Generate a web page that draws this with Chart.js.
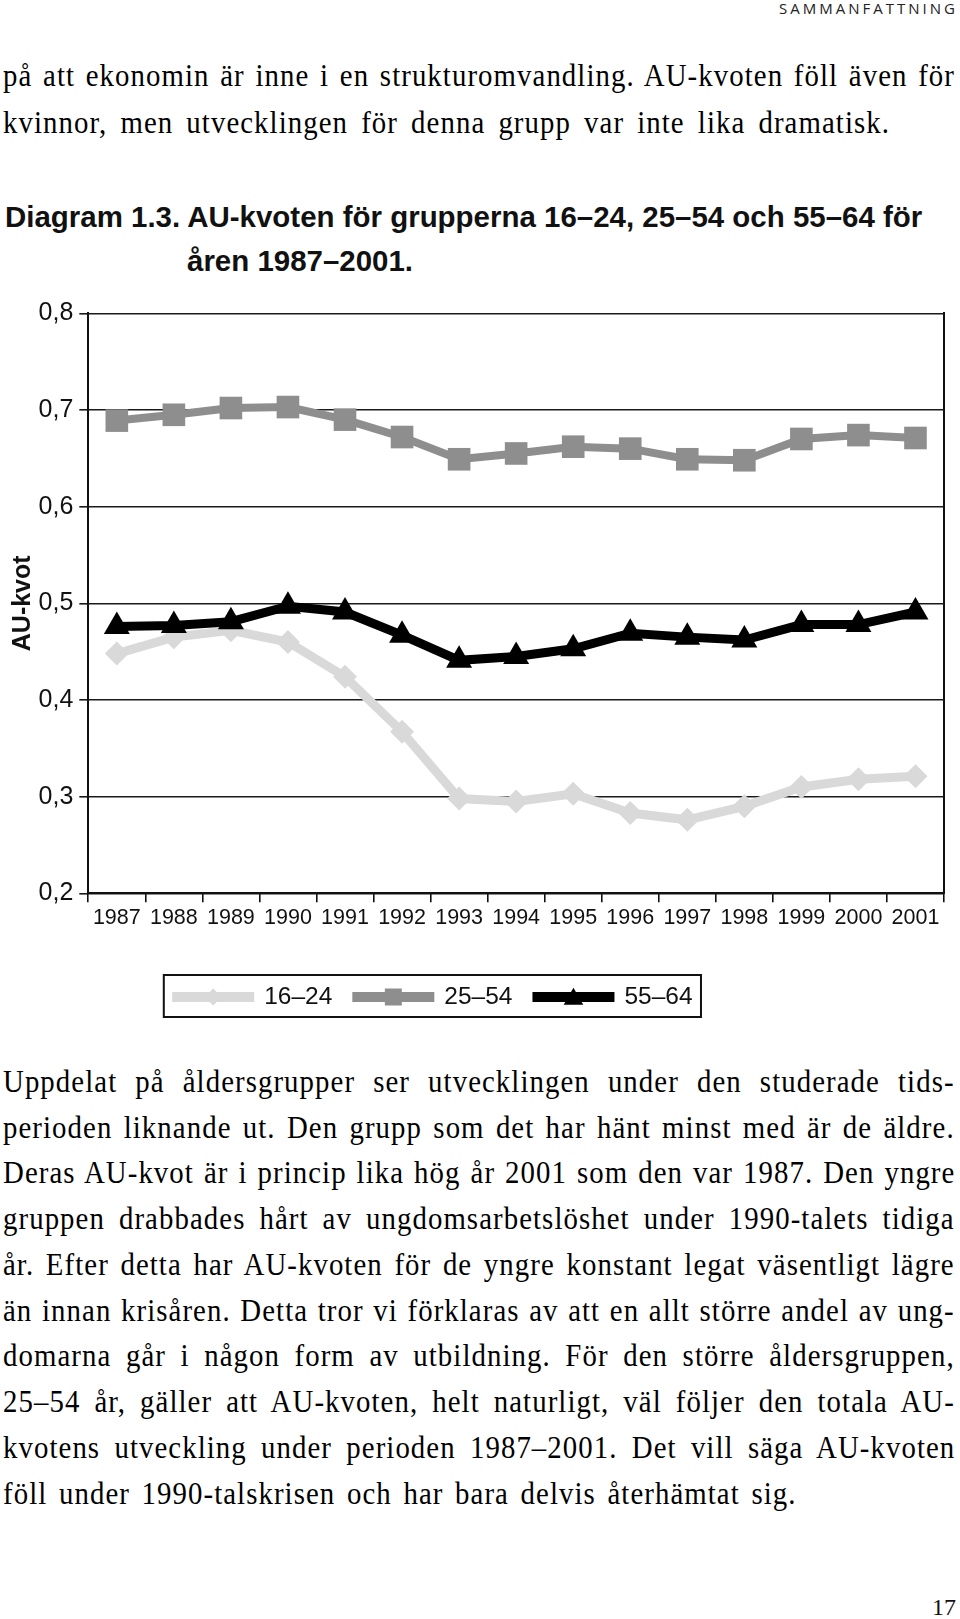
<!DOCTYPE html>
<html><head><meta charset="utf-8">
<script src="https://cdn.jsdelivr.net/npm/chart.js@4.4.1/dist/chart.umd.min.js"></script>
<style>
html,body{margin:0;padding:0;background:#fff;}
body{width:960px;height:1619px;position:relative;overflow:hidden;}
.hdr{position:absolute;top:-2px;left:779px;white-space:nowrap;font-family:"Open Sans",sans-serif;font-size:15px;line-height:20px;color:#222;}
.ln{position:absolute;left:3px;white-space:nowrap;font-family:"Liberation Serif",serif;font-size:32px;line-height:46px;color:#000;transform-origin:0 0;}
.tl{position:absolute;white-space:nowrap;font-family:"Liberation Sans",sans-serif;font-weight:bold;font-size:30px;line-height:44px;color:#111;transform-origin:0 0;}
.pg{position:absolute;top:1592px;right:4px;font-family:"Liberation Serif",serif;font-size:24px;line-height:30px;color:#111;}
#wrap{position:absolute;left:0;top:280px;width:960px;height:760px;}
</style></head>
<body>
<div class="hdr">SAMMANFATTNING</div>

<div class="ln" style="top:52px" data-w="952">på att ekonomin är inne i en strukturomvandling. AU-kvoten föll även för</div>
<div class="ln" style="top:98.5px" data-w="887">kvinnor, men utvecklingen för denna grupp var inte lika dramatisk.</div>

<div class="tl" id="t1" style="top:195px;left:5px">Diagram 1.3. AU-kvoten för grupperna 16–24, 25–54 och 55–64 för</div>
<div class="tl" id="t2" style="top:239px;left:187px">åren 1987–2001.</div>

<div id="wrap"><canvas id="c" width="960" height="760"></canvas></div>

<div id="p2"></div>
<div class="pg">17</div>

<script>
// ---- data ----
const years = ['1987','1988','1989','1990','1991','1992','1993','1994','1995','1996','1997','1998','1999','2000','2001'];
const seriesNames = ['16–24', '25–54', '55–64'];
const values1624 = [0.448, 0.465, 0.472, 0.460, 0.424, 0.367, 0.298, 0.295, 0.303, 0.283, 0.276, 0.290, 0.310, 0.318, 0.321];
const values2554 = [0.689, 0.695, 0.702, 0.703, 0.690, 0.672, 0.649, 0.655, 0.662, 0.660, 0.649, 0.648, 0.670, 0.674, 0.671];
const values5564 = [0.476, 0.477, 0.481, 0.497, 0.491, 0.467, 0.441, 0.445, 0.453, 0.469, 0.465, 0.462, 0.478, 0.478, 0.491];
const yTickValues = [0.2, 0.3, 0.4, 0.5, 0.6, 0.7, 0.8];
const yTickLabels = ['0,2', '0,3', '0,4', '0,5', '0,6', '0,7', '0,8'];
const yAxisTitle = 'AU-kvot';

// ---- body text (paragraph 2) ----
const para2 = [
 ['Uppdelat på åldersgrupper ser utvecklingen under den studerade tids-', 952],
 ['perioden liknande ut. Den grupp som det har hänt minst med är de äldre.', 952],
 ['Deras AU-kvot är i princip lika hög år 2001 som den var 1987. Den yngre', 952],
 ['gruppen drabbades hårt av ungdomsarbetslöshet under 1990-talets tidiga', 952],
 ['år. Efter detta har AU-kvoten för de yngre konstant legat väsentligt lägre', 952],
 ['än innan krisåren. Detta tror vi förklaras av att en allt större andel av ung-', 952],
 ['domarna går i någon form av utbildning. För den större åldersgruppen,', 952],
 ['25–54 år, gäller att AU-kvoten, helt naturligt, väl följer den totala AU-', 952],
 ['kvotens utveckling under perioden 1987–2001. Det vill säga AU-kvoten', 952],
 ['föll under 1990-talskrisen och har bara delvis återhämtat sig.', 794]
];
const p2 = document.getElementById('p2');
para2.forEach((l, i) => {
  const d = document.createElement('div');
  d.className = 'ln';
  d.style.top = (1057.8 + i * 45.75) + 'px';
  d.dataset.w = l[1];
  d.textContent = l[0];
  p2.appendChild(d);
});

function fit(el, target, maxLs, scale) {
  el.style.letterSpacing = '0px';
  el.style.wordSpacing = '0px';
  el.style.transform = 'none';
  const w = el.offsetWidth;
  const txt = el.textContent;
  const T = target / scale;
  if (w >= T) {
    el.style.transform = 'scaleX(' + (target / w) + ')';
    return;
  }
  const n = txt.length;
  const s = (txt.match(/ /g) || []).length;
  const extra = T - w;
  let ls = Math.min(extra / n, maxLs);
  if (s === 0) ls = extra / (n - 1);
  el.style.letterSpacing = ls + 'px';
  const rem = extra - ls * n;
  if (s > 0 && rem > 0) el.style.wordSpacing = (rem / s) + 'px';
  if (scale !== 1) el.style.transform = 'scaleX(' + scale + ')';
}
document.querySelectorAll('.ln').forEach(el => fit(el, +el.dataset.w, 1.2, 0.9));
fit(document.querySelector('.hdr'), 176, 99, 1);
(function(){
  const t1 = document.getElementById('t1'), t2 = document.getElementById('t2');
  const sc = 917 / t1.offsetWidth;
  t1.style.transform = 'scaleX(' + sc + ')';
  t2.style.transform = 'scaleX(' + sc + ')';
})();

// ---- chart ----
const colors = ['#d9d9d9', '#8e8e8e', '#000000'];
const pointStyles = ['rectRot', 'rect', 'triangle'];
const pointRadii = [12, 16, 15];
const lineWidths = [9, 8, 9];
const legendRadii = [8.5, 12, 11.3];

const boxLegend = {
  id: 'boxLegend',
  afterDraw(chart) {
    const ctx = chart.ctx, ca = chart.chartArea;
    const left = ca.left + 75.5, top = ca.bottom + 81.7, h = 42;
    const cy = top + h / 2 + 1;
    ctx.save();
    ctx.font = '24.5px "Liberation Sans", sans-serif';
    let x = left + 8.4;
    chart.data.datasets.forEach((ds, i) => {
      ctx.strokeStyle = ds.borderColor;
      ctx.lineWidth = 10;
      ctx.lineCap = 'butt';
      ctx.beginPath(); ctx.moveTo(x, cy); ctx.lineTo(x + 82, cy); ctx.stroke();
      ctx.fillStyle = ds.borderColor;
      Chart.helpers.drawPoint(ctx, {pointStyle: ds.pointStyle, radius: legendRadii[i], rotation: 0, borderWidth: 0}, x + 41, cy + (ds.pointStyle === 'triangle' ? 2 : 0));
      ctx.fillStyle = '#111';
      ctx.textBaseline = 'middle';
      ctx.textAlign = 'left';
      ctx.fillText(ds.label, x + 92, cy);
      const tw = ctx.measureText(ds.label).width;
      x += 92 + tw + (i < chart.data.datasets.length - 1 ? 20 : 8.4);
    });
    ctx.strokeStyle = '#111';
    ctx.lineWidth = 2;
    ctx.strokeRect(left, top, x - left, h);
    ctx.restore();
  }
};

const seriesValues = [values1624, values2554, values5564];
new Chart(document.getElementById('c'), {
  type: 'line',
  data: {
    labels: years,
    datasets: seriesNames.map((name, i) => ({
      label: name,
      data: seriesValues[i],
      borderColor: colors[i],
      backgroundColor: colors[i],
      borderWidth: lineWidths[i],
      pointStyle: pointStyles[i],
      pointRadius: pointRadii[i],
      pointHoverRadius: pointRadii[i],
      pointBackgroundColor: colors[i],
      pointBorderWidth: 0,
      tension: 0,
      fill: false,
      order: 3 - i,
      clip: false
    }))
  },
  options: {
    responsive: false,
    animation: false,
    events: [],
    layout: { padding: { top: 33.3, right: 13.3, left: 0, bottom: 0 } },
    plugins: { legend: { display: false }, tooltip: { enabled: false } },
    scales: {
      x: {
        type: 'category',
        offset: true,
        grid: { offset: true, drawOnChartArea: false, drawTicks: true, tickLength: 9, color: '#111', lineWidth: 1.6 },
        border: { display: true, color: '#111', width: 2 },
        ticks: { color: '#111', font: { family: '"Liberation Sans", sans-serif', size: 21.5 }, padding: 3, maxRotation: 0, autoSkip: false },
        afterFit(s) { s.height = 146.7; }
      },
      y: {
        min: 0.2, max: 0.8,
        afterBuildTicks(s) { s.ticks = yTickValues.map(v => ({ value: v })); },
        ticks: { color: '#111', font: { family: '"Liberation Sans", sans-serif', size: 25 }, padding: 6, callback: (v, i) => yTickLabels[i] },
        grid: { color: '#1a1a1a', lineWidth: 1.6, tickLength: 9 },
        border: { display: true, color: '#111', width: 2 },
        title: { display: true, text: yAxisTitle, color: '#111', font: { family: '"Liberation Sans", sans-serif', size: 25, weight: 'bold' }, padding: { top: 8, bottom: 0 } },
        afterFit(s) { s.width = 88.3; }
      },
      y2: {
        position: 'right',
        min: 0.2, max: 0.8,
        ticks: { display: false },
        grid: { drawOnChartArea: false, drawTicks: false },
        border: { display: true, color: '#111', width: 2 },
        afterFit(s) { s.width = 0; }
      }
    }
  },
  plugins: [boxLegend]
});
</script>
</body></html>
